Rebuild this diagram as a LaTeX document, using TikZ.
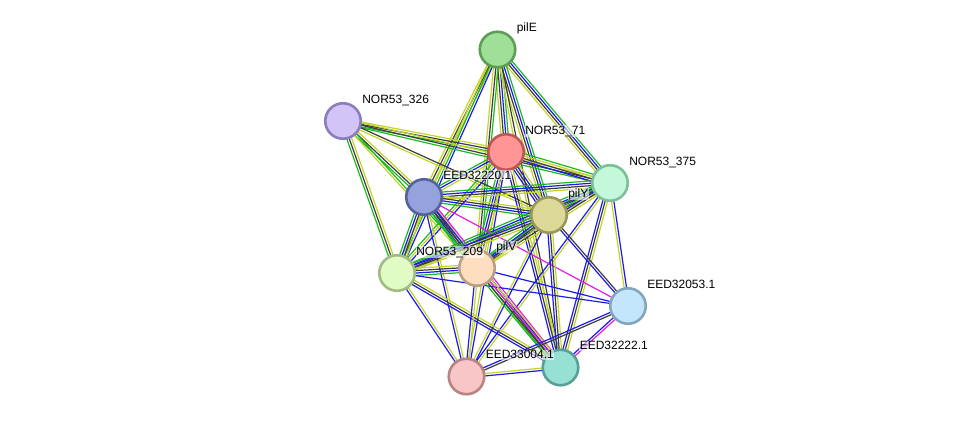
\documentclass[tikz,border=0pt]{standalone}
\usepackage{fontspec}
\setmainfont{Liberation Sans}
\usetikzlibrary{calc,backgrounds}
\definecolor{sgreen}{RGB}{30,185,30}
\definecolor{sblue}{RGB}{25,25,240}
\definecolor{sblack}{RGB}{60,60,60}
\definecolor{syellow}{RGB}{195,212,40}
\definecolor{smag}{RGB}{225,30,225}
\newcommand\edg[3]{%
  \foreach \cc [count=\i] in {#3} {\xdef\nn{\i}}%
  \foreach \cc [count=\i] in {#3} {%
    \pgfmathsetmacro\off{(\i-(\nn+1)/2)*2.4}%
    \draw[edgeline, \cc] ($(#1)!\off pt!90:(#2)$) -- ($(#2)!\off pt!-90:(#1)$);
  }}
\begin{document}
\begin{tikzpicture}[x=1pt,y=-1pt,
  edgeline/.style={line width=1.2pt},
  prot/.style={circle, minimum size=35.5pt, inner sep=0pt, line width=2.6pt},
  lbl/.style={anchor=base west, font=\fontsize{12}{14}\selectfont, fill=white, fill opacity=0.55, text opacity=1, inner sep=0.6pt}]
\useasboundingbox (0,0) rectangle (975,422);
\node[prot, fill={rgb,255:red,160;green,223;blue,152}, draw={rgb,255:red,94;green,157;blue,86}] (E) at (497.5,49.5) {};
\node[prot, fill={rgb,255:red,210;green,195;blue,248}, draw={rgb,255:red,140;green,125;blue,188}] (A) at (343,121) {};
\node[prot, fill={rgb,255:red,255;green,149;blue,149}, draw={rgb,255:red,192;green,85;blue,85}] (B) at (506,152) {};
\node[prot, fill={rgb,255:red,196;green,248;blue,218}, draw={rgb,255:red,124;green,191;blue,152}] (C) at (610,183) {};
\node[prot, fill={rgb,255:red,150;green,162;blue,220}, draw={rgb,255:red,86;green,98;blue,160}] (D) at (424,197) {};
\node[prot, fill={rgb,255:red,219;green,216;blue,152}, draw={rgb,255:red,154;green,151;blue,88}] (Y) at (549,215) {};
\node[prot, fill={rgb,255:red,224;green,252;blue,196}, draw={rgb,255:red,160;green,188;blue,132}] (N) at (397,273) {};
\node[prot, fill={rgb,255:red,254;green,222;blue,192}, draw={rgb,255:red,190;green,158;blue,130}] (V) at (477,268) {};
\node[prot, fill={rgb,255:red,196;green,230;blue,252}, draw={rgb,255:red,132;green,166;blue,188}] (F) at (628,306) {};
\node[prot, fill={rgb,255:red,248;green,198;blue,198}, draw={rgb,255:red,184;green,132;blue,132}] (G) at (466.5,376.5) {};
\node[prot, fill={rgb,255:red,150;green,224;blue,212}, draw={rgb,255:red,86;green,160;blue,148}] (H) at (560.5,367.5) {};
\begin{scope}[on background layer]
\edg{E}{B}{syellow,sblack,sblue,sgreen}
\edg{E}{C}{syellow,sblack,sblue,sgreen}
\edg{E}{D}{syellow,sblack,syellow}
\edg{E}{N}{syellow,sgreen,sblue}
\edg{E}{Y}{syellow,sblack,sblue,sgreen}
\edg{E}{V}{syellow,sblack,sgreen}
\edg{E}{H}{syellow,sblack}
\edg{A}{B}{sgreen,sblack,syellow}
\edg{A}{C}{sgreen,sblack,syellow}
\edg{A}{D}{sgreen,sblack,syellow}
\edg{A}{Y}{syellow,sblack}
\edg{A}{N}{sgreen,sblack,syellow}
\edg{A}{V}{syellow,sgreen}
\edg{B}{C}{sblue,sblack,syellow,sgreen}
\edg{B}{D}{sgreen,sblue,syellow}
\edg{B}{Y}{sblue,sblack,sblue,syellow}
\edg{B}{N}{sgreen,syellow,sblue}
\edg{B}{V}{sgreen,sblue,sblack,syellow}
\edg{B}{H}{sblue,sblack,syellow}
\edg{B}{G}{syellow,sblue}
\edg{C}{D}{sgreen,sblue,sblack,syellow}
\edg{C}{Y}{sgreen,sblue,sblack,syellow}
\edg{C}{N}{sgreen,sblue,sblack,syellow}
\edg{C}{V}{sgreen,sblue,sblack,syellow}
\edg{C}{F}{syellow,sblue}
\edg{C}{H}{sblue,sblack,syellow}
\edg{C}{G}{sblue,syellow}
\edg{D}{Y}{sgreen,sblue,sblack,syellow}
\edg{D}{N}{sgreen,sblue,sblack,syellow}
\edg{D}{V}{sgreen,sblue,sblack,syellow}
\edg{D}{F}{smag}
\edg{D}{H}{sgreen,sblack,sblue,smag}
\edg{D}{G}{sblue,syellow}
\edg{Y}{N}{sgreen,sblue,sblack,syellow}
\edg{Y}{V}{sgreen,sblue,sblack,syellow}
\edg{Y}{F}{sblue,sblack}
\edg{Y}{H}{sblue,sblack,syellow}
\edg{Y}{G}{syellow,sblue}
\edg{N}{V}{sgreen,sblue,sblack,syellow}
\edg{N}{F}{sblue}
\edg{N}{H}{sblue,sblack,syellow}
\edg{N}{G}{sblue,syellow}
\edg{V}{F}{sblue}
\edg{V}{H}{sgreen,sblack,smag,syellow}
\edg{V}{G}{sblue,syellow}
\edg{F}{H}{sblue,smag}
\edg{F}{G}{sblue,sblack}
\edg{G}{H}{sblue,syellow}
\end{scope}
\node[lbl] (lE) at ($(E)+(18.5,-17.7)$) {pilE};
\node[lbl] (lA) at ($(A)+(18.5,-17.7)$) {NOR53\_326};
\node[lbl] (lB) at ($(B)+(18.5,-17.7)$) {NOR53\_71};
\node[lbl] (lC) at ($(C)+(18.5,-17.7)$) {NOR53\_375};
\node[lbl] (lD) at ($(D)+(18.5,-17.7)$) {EED32220.1};
\node[lbl] (lY) at ($(Y)+(18.5,-17.7)$) {pilY};
\node[lbl] (lN) at ($(N)+(18.5,-17.7)$) {NOR53\_209};
\node[lbl] (lV) at ($(V)+(18.5,-17.7)$) {pilV};
\node[lbl] (lF) at ($(F)+(18.5,-17.7)$) {EED32053.1};
\node[lbl] (lG) at ($(G)+(18.5,-17.7)$) {EED33004.1};
\node[lbl] (lH) at ($(H)+(18.5,-17.7)$) {EED32222.1};
\end{tikzpicture}
\end{document}
